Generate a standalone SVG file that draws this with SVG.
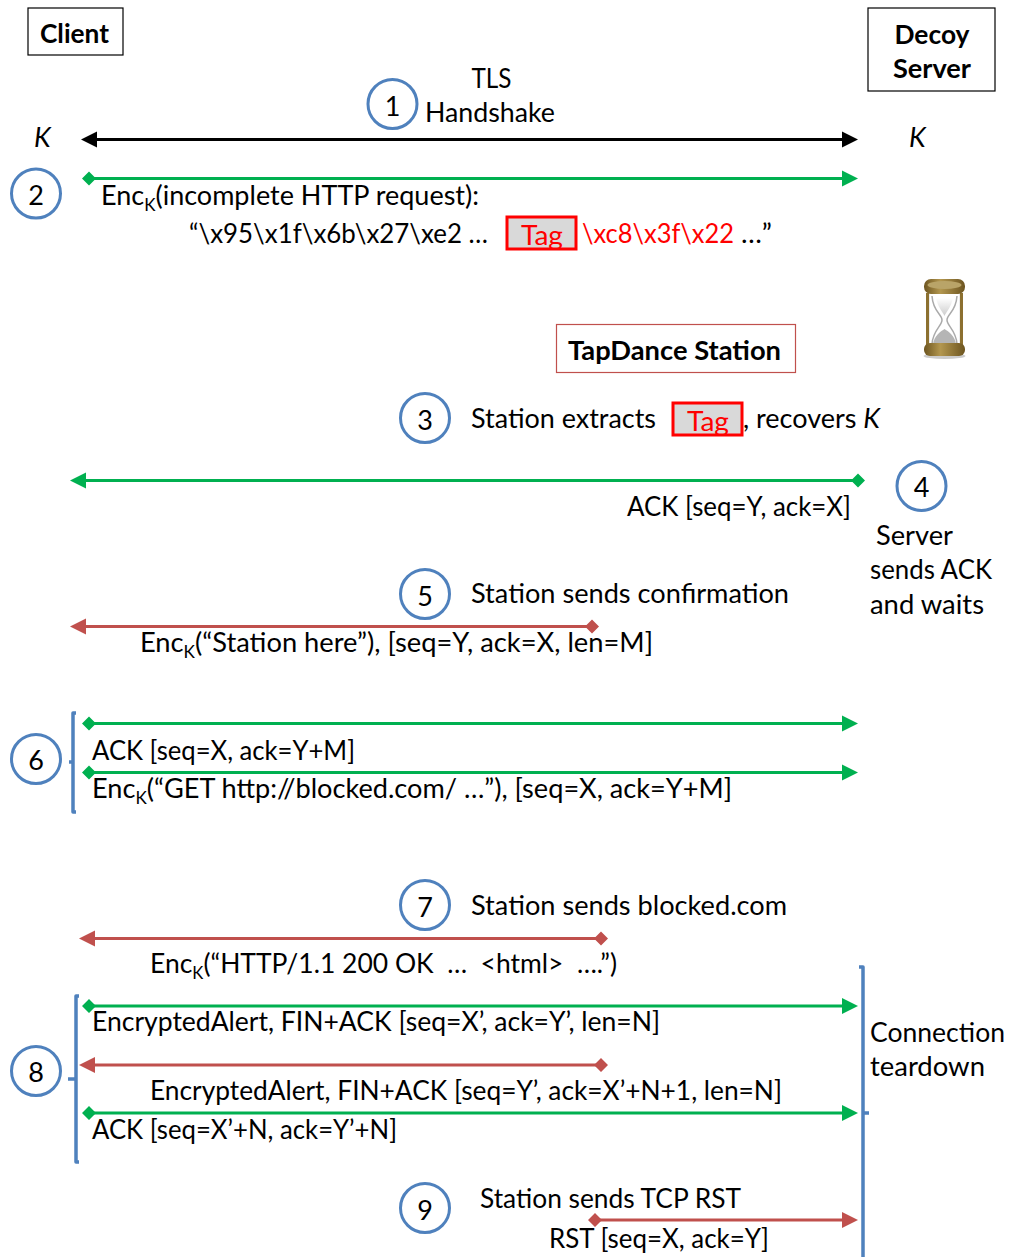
<svg xmlns="http://www.w3.org/2000/svg" width="1010" height="1257" viewBox="0 0 1010 1257">
<style>
text{font-family:Lato,"Liberation Sans",sans-serif;font-size:27px;fill:#000;white-space:pre}
.b{font-weight:700}
.i{font-style:italic}
.r{fill:#f00}
.c{fill:#fff;stroke:#4f81bd;stroke-width:3}
.n{text-anchor:middle}
.g{stroke:#00b050;stroke-width:3;fill:none}
.d{stroke:#c0504d;stroke-width:3;fill:none}
.k{stroke:#000;stroke-width:3;fill:none}
.br{stroke:#4f81bd;stroke-width:3.5;fill:none;stroke-linejoin:round}
.tag{fill:#d9d9d9;stroke:#f00;stroke-width:3}
.s{font-size:17px}
</style>
<defs>
<linearGradient id="gold" x1="0" x2="1" y1="0" y2="0"><stop offset="0" stop-color="#6d5520"/><stop offset=".4" stop-color="#b3974f"/><stop offset="1" stop-color="#6d5520"/></linearGradient>
<linearGradient id="sand" x1="0" x2="0" y1="0" y2="1"><stop offset="0" stop-color="#fff"/><stop offset="1" stop-color="#aaa"/></linearGradient>
</defs>
<g id="connectors">
<path class="k" d="M92 139.500H848"/>
<path d="M81 139.500l16-8v16zM858 139.500l-16-8v16z" fill="#000"/>
<path class="g" d="M89 178.500H845"/><path d="M82 178.500l7-7 7 7-7 7zM858 178.500l-16-8v16z" fill="#00b050"/>
<path class="g" d="M81 480.500H858"/><path d="M70 480.500l16-8v16zM851 480.500l7-7 7 7-7 7z" fill="#00b050"/>
<path class="d" d="M81 626.500H592"/><path d="M70 626.500l16-8v16zM585 626.500l7-7 7 7-7 7z" fill="#c0504d"/>
<path class="g" d="M89 723.500H845"/><path d="M82 723.500l7-7 7 7-7 7zM858 723.500l-16-8v16z" fill="#00b050"/>
<path class="g" d="M89 772.500H845"/><path d="M82 772.500l7-7 7 7-7 7zM858 772.500l-16-8v16z" fill="#00b050"/>
<path class="d" d="M90 938.500H601"/><path d="M79 938.500l16-8v16zM594 938.500l7-7 7 7-7 7z" fill="#c0504d"/>
<path class="g" d="M89 1006H845"/><path d="M82 1006l7-7 7 7-7 7zM858 1006l-16-8v16z" fill="#00b050"/>
<path class="d" d="M90 1065H601"/><path d="M79 1065l16-8v16zM594 1065l7-7 7 7-7 7z" fill="#c0504d"/>
<path class="g" d="M89 1113H845"/><path d="M82 1113l7-7 7 7-7 7zM858 1113l-16-8v16z" fill="#00b050"/>
<path class="d" d="M595 1220H845"/><path d="M588 1220l7-7 7 7-7 7zM858 1220l-16-8v16z" fill="#c0504d"/>
</g>
<g id="brackets">
<path class="br" d="M76 713H73V812H76M73 762H69"/>
<path class="br" d="M79 996H76V1162H79M76 1079H68"/>
<path class="br" d="M859 967H863V1257M863 1113H869"/>
</g>
<g id="client"><rect x="28" y="8" width="95" height="47" fill="#fff" stroke="#000" stroke-width="1.200"/><text class="b n" x="74.500" y="43" textLength="69" lengthAdjust="spacingAndGlyphs">Client</text></g>
<g id="decoy-server"><rect x="868" y="8" width="127" height="83" fill="#fff" stroke="#000" stroke-width="1.200"/><text class="b n" x="932" y="44" textLength="75" lengthAdjust="spacingAndGlyphs">Decoy</text><text class="b n" x="932" y="78" textLength="78" lengthAdjust="spacingAndGlyphs">Server</text></g>
<g id="station"><rect x="556.500" y="324.500" width="239" height="48" fill="#fff" stroke="#c0504d" stroke-width="1.200"/><text class="b" x="568" y="360" textLength="213" lengthAdjust="spacingAndGlyphs">TapDance Station</text></g>
<g id="step1"><circle class="c" cx="392.500" cy="104" r="24.500"/><text class="n" x="392.500" y="116">1</text></g>
<g id="step2"><circle class="c" cx="36" cy="193.500" r="24.500"/><text class="n" x="36" y="205">2</text></g>
<g id="step3"><circle class="c" cx="425" cy="418" r="24.500"/><text class="n" x="425" y="430">3</text></g>
<g id="step4"><circle class="c" cx="921.500" cy="486" r="24.500"/><text class="n" x="921.500" y="497">4</text></g>
<g id="step5"><circle class="c" cx="425" cy="594" r="24.500"/><text class="n" x="425" y="606">5</text></g>
<g id="step6"><circle class="c" cx="36" cy="759" r="24.500"/><text class="n" x="36" y="770">6</text></g>
<g id="step7"><circle class="c" cx="425" cy="905" r="24.500"/><text class="n" x="425" y="917">7</text></g>
<g id="step8"><circle class="c" cx="36" cy="1071" r="24.500"/><text class="n" x="36" y="1082">8</text></g>
<g id="step9"><circle class="c" cx="425" cy="1208" r="24.500"/><text class="n" x="425" y="1220">9</text></g>
<g id="labels">
<text class="n" x="491.500" y="88" textLength="40" lengthAdjust="spacingAndGlyphs">TLS</text>
<text x="425" y="122" textLength="130" lengthAdjust="spacingAndGlyphs">Handshake</text>
<text class="i" x="34" y="147">K</text>
<text class="i" x="909" y="147">K</text>
<text x="101" y="205" textLength="378" lengthAdjust="spacingAndGlyphs">Enc<tspan class="s" dy="6">K</tspan><tspan dy="-6">(incomplete HTTP request):</tspan></text>
<text x="189" y="243" textLength="299" lengthAdjust="spacingAndGlyphs">“\x95\x1f\x6b\x27\xe2 …</text>
<rect class="tag" x="507" y="217" width="69" height="32"/>
<text class="r" x="521" y="245" textLength="42" lengthAdjust="spacingAndGlyphs">Tag</text>
<text class="r" x="582" y="243" textLength="152" lengthAdjust="spacingAndGlyphs">\xc8\x3f\x22</text>
<text x="741" y="243" textLength="31" lengthAdjust="spacingAndGlyphs">…”</text>
<text x="471" y="428" textLength="185" lengthAdjust="spacingAndGlyphs">Station extracts</text>
<rect class="tag" x="673" y="403" width="69" height="32"/>
<text class="r" x="687" y="431" textLength="42" lengthAdjust="spacingAndGlyphs">Tag</text>
<text x="743" y="428" textLength="137" lengthAdjust="spacingAndGlyphs">, recovers <tspan class="i">K</tspan></text>
<text x="627" y="516" textLength="224" lengthAdjust="spacingAndGlyphs">ACK [seq=Y, ack=X]</text>
<text x="876" y="545" textLength="77" lengthAdjust="spacingAndGlyphs">Server</text>
<text x="870" y="579" textLength="122" lengthAdjust="spacingAndGlyphs">sends ACK</text>
<text x="870" y="614" textLength="114" lengthAdjust="spacingAndGlyphs">and waits</text>
<text x="471" y="603" textLength="318" lengthAdjust="spacingAndGlyphs">Station sends confirmation</text>
<text x="140" y="652" textLength="513" lengthAdjust="spacingAndGlyphs">Enc<tspan class="s" dy="6">K</tspan><tspan dy="-6">(“Station here”), [seq=Y, ack=X, len=M]</tspan></text>
<text x="92" y="760" textLength="263" lengthAdjust="spacingAndGlyphs">ACK [seq=X, ack=Y+M]</text>
<text x="92" y="798" textLength="640" lengthAdjust="spacingAndGlyphs">Enc<tspan class="s" dy="6">K</tspan><tspan dy="-6">(“GET http://blocked.com/ …”), [seq=X, ack=Y+M]</tspan></text>
<text x="471" y="915" textLength="316" lengthAdjust="spacingAndGlyphs">Station sends blocked.com</text>
<text x="150" y="973" textLength="467" lengthAdjust="spacingAndGlyphs">Enc<tspan class="s" dy="6">K</tspan><tspan dy="-6">(“HTTP/1.1 200 OK  …  &lt;html&gt;  ….”)</tspan></text>
<text x="92" y="1031" textLength="568" lengthAdjust="spacingAndGlyphs">EncryptedAlert, FIN+ACK [seq=X’, ack=Y’, len=N]</text>
<text x="150" y="1100" textLength="632" lengthAdjust="spacingAndGlyphs">EncryptedAlert, FIN+ACK [seq=Y’, ack=X’+N+1, len=N]</text>
<text x="92" y="1139" textLength="305" lengthAdjust="spacingAndGlyphs">ACK [seq=X’+N, ack=Y’+N]</text>
<text x="870" y="1042" textLength="135" lengthAdjust="spacingAndGlyphs">Connection</text>
<text x="870" y="1076" textLength="115" lengthAdjust="spacingAndGlyphs">teardown</text>
<text x="480" y="1208" textLength="261" lengthAdjust="spacingAndGlyphs">Station sends TCP RST</text>
<text x="549" y="1248" textLength="220" lengthAdjust="spacingAndGlyphs">RST [seq=X, ack=Y]</text>
</g>
<g id="hourglass">
<ellipse cx="944.500" cy="356" rx="21" ry="3" fill="#ccc"/>
<path d="M929 293H960V346H929Z" fill="#fff" stroke="#d8d8d8"/>
<path d="M932 296C933 312 942 314 942 320C942 326 933 330 932 344M957 296C956 312 947 314 947 320C947 326 956 330 957 344" fill="none" stroke="#aaa" stroke-width="1.500"/>
<path d="M936 298H953C951 308 946 312 944.500 316C943 312 938 308 936 298Z" fill="url(#sand)" opacity=".6"/>
<path d="M933 344C934 336 941 331 944.500 329C948 331 955 336 956 344Z" fill="#b5b5b5"/>
<rect x="926" y="293" width="3" height="52" fill="#8c7030"/><rect x="960" y="293" width="3" height="52" fill="#8c7030"/>
<rect x="924" y="279" width="41" height="15" rx="7" fill="url(#gold)"/>
<ellipse cx="944.500" cy="285" rx="17" ry="4" fill="#b9a468"/>
<rect x="924" y="343" width="41" height="13" rx="6" fill="url(#gold)"/>
</g>
</svg>
